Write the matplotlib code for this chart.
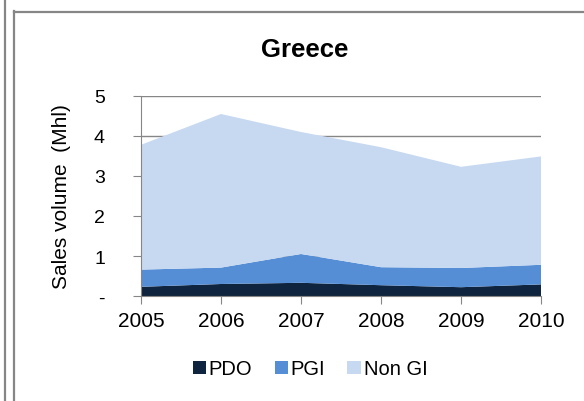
import matplotlib
matplotlib.use("Agg")
import matplotlib.pyplot as plt
from matplotlib.lines import Line2D

plt.rcParams['font.family'] = ['Liberation Sans', 'DejaVu Sans']

years = [2005, 2006, 2007, 2008, 2009, 2010]
pdo = [0.23, 0.30, 0.33, 0.27, 0.22, 0.29]
pgi = [0.43, 0.41, 0.72, 0.45, 0.48, 0.49]
non_gi = [3.12, 3.84, 3.05, 3.00, 2.53, 2.71]
series_names = ['PDO', 'PGI', 'Non GI']
colors = ['#0F243E', '#558ED5', '#C6D9F1']
ytick_labels = ['-', '1', '2', '3', '4', '5']

grey = '#868686'

fig = plt.figure(figsize=(5.84, 4.02), dpi=100)

# outer chart borders
fig.add_artist(Line2D([4.5/584, 4.5/584], [0, 1], color=grey, lw=1.6))
fig.add_artist(Line2D([14/584, 14/584], [0, 1 - 12/402], color=grey, lw=1.6))
fig.add_artist(Line2D([14/584, 1], [1 - 13/402, 1 - 13/402], color=grey, lw=1.6))

ax = fig.add_axes([141/584, 1 - 297/402, 400/584, 200/402])
ax.stackplot(years, pdo, pgi, non_gi, colors=colors, labels=series_names, zorder=2)

ax.set_xlim(2005, 2010)
ax.set_ylim(0, 5)
ax.set_yticks(range(6))
ax.set_yticklabels(ytick_labels, fontsize=14)
ax.set_xticks(years)
ax.set_xticklabels([str(y) for y in years], fontsize=15)
ax.yaxis.grid(True, color=grey, lw=1, zorder=0)
ax.set_axisbelow(True)

for s in ['top', 'right']:
    ax.spines[s].set_visible(False)
for s in ['left', 'bottom']:
    ax.spines[s].set_color(grey)
    ax.spines[s].set_zorder(3)
ax.tick_params(axis='y', length=6, color=grey, pad=20)
ax.tick_params(axis='x', length=6, color=grey, pad=5)

ax.set_ylabel('Sales volume  (Mhl)', fontsize=15)
ax.yaxis.set_label_coords(-0.175, 0.5)

fig.text(305/584, 1 - 50/402, 'Greece', fontsize=18.5, fontweight='bold',
         ha='center', va='center')

fig.legend(loc='center', bbox_to_anchor=(310/584, 1 - 370/402), ncol=3,
           frameon=False, fontsize=14.5, handlelength=0.65, handleheight=0.65,
           handletextpad=0.15, columnspacing=1.1)

fig.savefig('out.png', dpi=100)
